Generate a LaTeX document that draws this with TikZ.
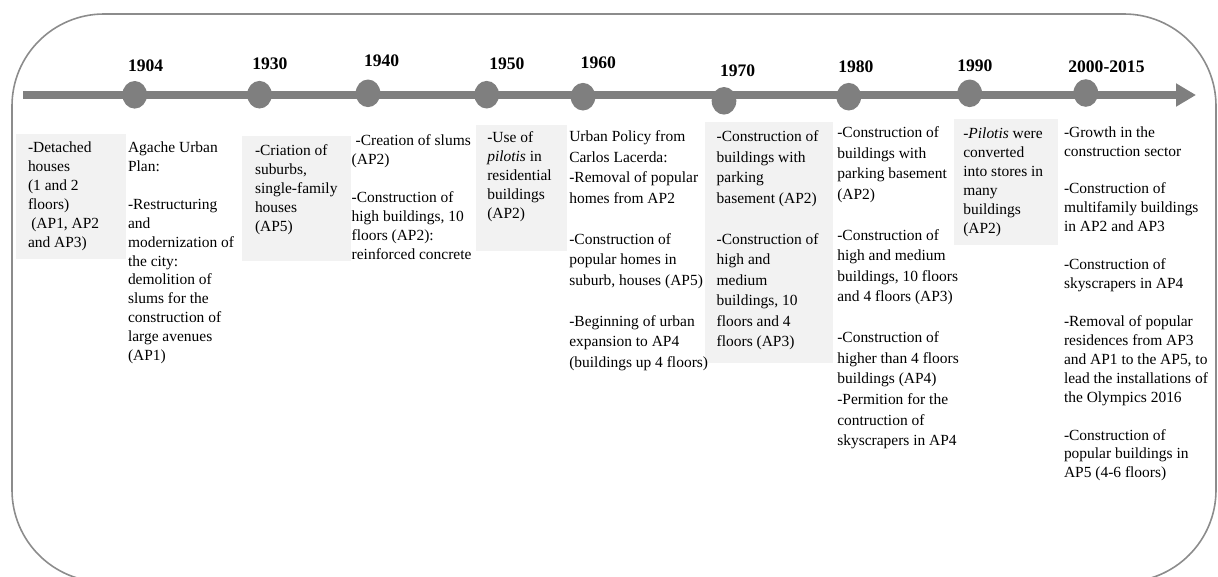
\documentclass[tikz,border=0pt]{standalone}
\usepackage{fontspec}
\setmainfont{Liberation Serif}
\usetikzlibrary{arrows.meta,shapes.geometric}
\definecolor{tlgray}{RGB}{127,127,127}
\definecolor{framegray}{RGB}{140,140,140}
\definecolor{panelfill}{RGB}{242,242,242}
\newcommand{\gapA}{14.2pt}
\newcommand{\gapB}{15.4pt}
\begin{document}
\begin{tikzpicture}[x=0.75pt,y=-0.75pt,
  every node/.style={inner sep=0pt,outer sep=0pt},
  % first line gets a fixed-height strut so the node top sits 10pt above its baseline
  entry/.style={anchor=north west,yshift=10pt,align=left,
    execute at begin node={\rule{0pt}{10pt}}},
  txt/.style={entry,font=\fontsize{11.6}{14.2}\selectfont},
  txtwide/.style={entry,font=\fontsize{11.6}{15.4}\selectfont},
  yearlbl/.style={anchor=base west,font=\fontsize{13.2}{15}\selectfont\bfseries},
  dot/.style={ellipse,fill=tlgray,minimum width=18.5pt,minimum height=20.7pt},
  panel/.style={fill=panelfill},
  frame/.style={draw=framegray,line width=1.2pt,rounded corners=69pt}]
\useasboundingbox (0,0) rectangle (1218,576);

% outer frame
\draw[frame] (12,14) rectangle (1216,582);

% shaded panels behind alternate entries
\fill[panel] (16,134) rectangle (126,259);
\fill[panel] (242,136) rectangle (351,261);
\fill[panel] (476,125) rectangle (567,251);
\fill[panel] (705,122) rectangle (833,363);
\fill[panel] (954,119) rectangle (1058,245);

% timeline axis
\coordinate (axisstart) at (23,95);
\coordinate (axisend) at (1196,95);
\draw[tlgray,line width=6pt,-{Triangle[length=15pt,width=16.5pt]}] (axisstart) -- (axisend);

% year markers
\node[dot] (d1904) at (134.7,94.8) {};
\node[dot] (d1930) at (259.5,94.7) {};
\node[dot] (d1940) at (368,93.3) {};
\node[dot] (d1950) at (486.7,94.7) {};
\node[dot] (d1960) at (583,96.7) {};
\node[dot] (d1970) at (724,100.8) {};
\node[dot] (d1980) at (848.8,96.7) {};
\node[dot] (d1990) at (969.7,93.3) {};
\node[dot] (d2000) at (1085.8,93) {};

% year labels
\node[yearlbl] (y1904) at (128,71) {1904};
\node[yearlbl] (y1930) at (252.3,69.3) {1930};
\node[yearlbl] (y1940) at (364,66.7) {1940};
\node[yearlbl] (y1950) at (489.3,69.3) {1950};
\node[yearlbl] (y1960) at (580.7,68.3) {1960};
\node[yearlbl] (y1970) at (720,76) {1970};
\node[yearlbl] (y1980) at (838.3,72.3) {1980};
\node[yearlbl] (y1990) at (957.3,71.7) {1990};
\node[yearlbl] (y2000) at (1068.3,72.3) {2000-2015};

% entries
\node[txt] (e1) at (28,155) {-Detached\\houses\\(1 and 2\\floors)\\\hspace{2.5pt}(AP1, AP2\\and AP3)};
\node[txt] (e2) at (128,155) {Agache Urban\\Plan:\\[\gapA]-Restructuring\\and\\modernization of\\the city:\\demolition of\\slums for the\\construction of\\large avenues\\(AP1)};
\node[txt] (e3) at (255,158.3) {-Criation of\\suburbs,\\single-family\\houses\\(AP5)};
\node[txt] (e4) at (351.7,148.3) {\hspace{3pt}-Creation of slums\\(AP2)\\[\gapA]-Construction of\\high buildings, 10\\floors (AP2):\\reinforced concrete};
\node[txt] (e5) at (487.3,145) {-Use of\\\textit{pilotis} in\\residential\\buildings\\(AP2)};
\node[txtwide] (e6) at (569.3,144) {Urban Policy from\\Carlos Lacerda:\\-Removal of popular\\homes from AP2\\[\gapB]-Construction of\\popular homes in\\suburb, houses (AP5)\\[\gapB]-Beginning of urban\\expansion to AP4\\(buildings up 4 floors)};
\node[txtwide] (e7) at (716.7,144) {-Construction of\\buildings with\\parking\\basement (AP2)\\[\gapB]-Construction of\\high and\\medium\\buildings, 10\\floors and 4\\floors (AP3)};
\node[txtwide] (e8) at (837.3,140) {-Construction of\\buildings with\\parking basement\\(AP2)\\[\gapB]-Construction of\\high and medium\\buildings, 10 floors\\and 4 floors (AP3)\\[\gapB]-Construction of\\higher than 4 floors\\buildings (AP4)\\-Permition for the\\contruction of\\skyscrapers in AP4};
\node[txt] (e9) at (963.3,141) {\textit{-Pilotis} were\\converted\\into stores in\\many\\buildings\\(AP2)};
\node[txt] (e10) at (1064,139.7) {-Growth in the\\construction sector\\[\gapA]-Construction of\\multifamily buildings\\in AP2 and AP3\\[\gapA]-Construction of\\skyscrapers in AP4\\[\gapA]-Removal of popular\\residences from AP3\\and AP1 to the AP5, to\\lead the installations of\\the Olympics 2016\\[\gapA]-Construction of\\popular buildings in\\AP5 (4-6 floors)};
\end{tikzpicture}
\end{document}
